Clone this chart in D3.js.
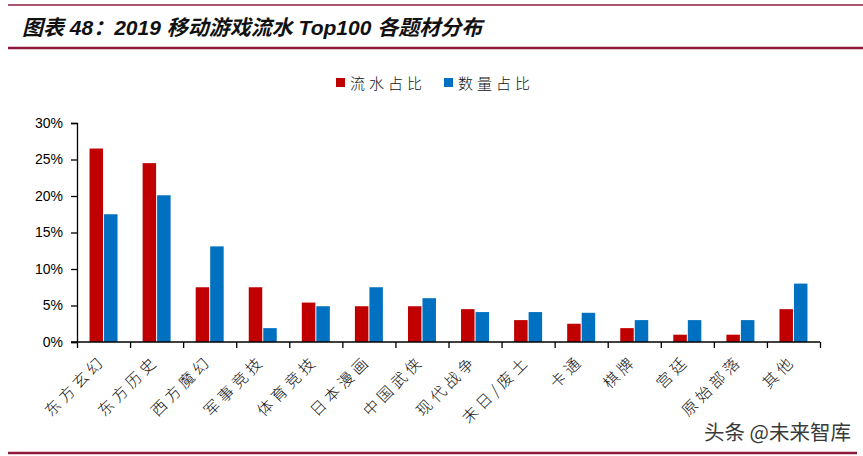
<!DOCTYPE html>
<html><head><meta charset="utf-8">
<script src="https://cdn.jsdelivr.net/npm/d3@7/dist/d3.min.js"></script>
<style>
body{margin:0;background:#fff;}
svg{display:block;}
</style></head>
<body>
<svg id="c" width="863" height="456"></svg>
<script>
const categories = ["东方玄幻","东方历史","西方魔幻","军事竞技","体育竞技","日本漫画","中国武侠","现代战争","末日/废土","卡通","棋牌","宫廷","原始部落","其他"];
const revenueShare = [26.5, 24.5, 7.5, 7.5, 5.4, 4.9, 4.9, 4.5, 3.0, 2.5, 1.9, 1.0, 1.0, 4.5];
const countShare   = [17.5, 20.1, 13.1, 1.9, 4.9, 7.5, 6.0, 4.1, 4.1, 4.0, 3.0, 3.0, 3.0, 8.0];
const seriesNames = ["流水占比","数量占比"];
const seriesColors = ["#C00000","#0070C0"];
const yTicks = [0,5,10,15,20,25,30];
const titleText = "图表 48：2019 移动游戏流水 Top100 各题材分布";
const watermark = "头条 @未来智库";

const svg = d3.select("#c");
const pLeft = 77, pRight = 820, pTop = 123, pBottom = 342;
const cjk = "'Noto Sans CJK SC','Noto Sans CJK JP',sans-serif";

// title and frame lines
svg.append("line").attr("x1",8).attr("x2",863).attr("y1",5).attr("y2",5).attr("stroke","#8E1B3C").attr("stroke-width",1.5);
svg.append("line").attr("x1",8).attr("x2",863).attr("y1",48).attr("y2",48).attr("stroke","#8E1B3C").attr("stroke-width",2.5);
svg.append("line").attr("x1",8).attr("x2",857).attr("y1",453).attr("y2",453).attr("stroke","#8E1B3C").attr("stroke-width",2.5);
svg.append("text").attr("x",22).attr("y",35).text(titleText)
  .attr("font-family","Arial,'Liberation Sans','Noto Sans CJK SC',sans-serif")
  .attr("font-weight","bold").attr("font-style","italic").attr("font-size",21).attr("fill","#111");

const y = d3.scaleLinear().domain([0,30]).range([pBottom, pTop]);
const x = d3.scaleBand().domain(categories).range([pLeft, pRight]).paddingInner(0).paddingOuter(0);
const xs = d3.scaleBand().domain([0,1]).range([x.bandwidth()/2 - 14, x.bandwidth()/2 + 14]).paddingInner(0.07);
const xLin = d3.scaleLinear().domain([0, categories.length]).range([pLeft, pRight]);

// bars
const data = [revenueShare, countShare];
data.forEach((vals, si) => {
  svg.append("g").selectAll("rect").data(vals).join("rect")
    .attr("x", (d,i) => x(categories[i]) + xs(si))
    .attr("width", xs.bandwidth())
    .attr("y", d => y(d))
    .attr("height", d => y(0) - y(d))
    .attr("fill", seriesColors[si]);
});

// y axis
const yAxis = svg.append("g").attr("transform",`translate(${pLeft},0)`)
  .call(d3.axisLeft(y).tickValues(yTicks).tickFormat(d => d + "%").tickSizeOuter(0).tickSize(6).tickPadding(8));
yAxis.selectAll("text").attr("font-family","Arial,'Liberation Sans',sans-serif").attr("font-size",14).attr("fill","#000");
yAxis.selectAll("path,line").attr("stroke","#000").attr("stroke-width",1.3);

// x axis
const xAxis = svg.append("g").attr("transform",`translate(0,${pBottom})`)
  .call(d3.axisBottom(xLin).tickValues(d3.range(0, categories.length+1)).tickFormat("").tickSize(6).tickSizeOuter(0));
xAxis.select("path").attr("d", `M${pLeft-6},0H${pRight}`);
xAxis.selectAll("path,line").attr("stroke","#000").attr("stroke-width",1.3);

// category labels
svg.append("g").selectAll("text").data(categories).join("text")
  .attr("transform", d => `translate(${x(d) + x.bandwidth()/2 + 3},${pBottom + 20}) rotate(-45)`)
  .attr("text-anchor","end")
  .attr("font-family", cjk).attr("font-size",15.5).attr("font-weight",300).attr("letter-spacing",4)
  .attr("fill","#111")
  .text(d => d);

// legend
const legendX = [336, 444];
seriesNames.forEach((n, i) => {
  svg.append("rect").attr("x", legendX[i]).attr("y", 78).attr("width", 9).attr("height", 9).attr("fill", seriesColors[i]);
  svg.append("text").attr("x", legendX[i] + 14).attr("y", 89).text(n)
    .attr("font-family", cjk).attr("font-size",15).attr("font-weight",300).attr("letter-spacing",4).attr("fill","#111");
});

// watermark
svg.append("text").attr("x", 851).attr("y", 440).attr("text-anchor","end").text(watermark)
  .attr("font-family", cjk).attr("font-size",20.5).attr("fill","#3a3a3a")
  .attr("stroke","#fff").attr("stroke-width",3).attr("paint-order","stroke");
</script>
</body></html>
